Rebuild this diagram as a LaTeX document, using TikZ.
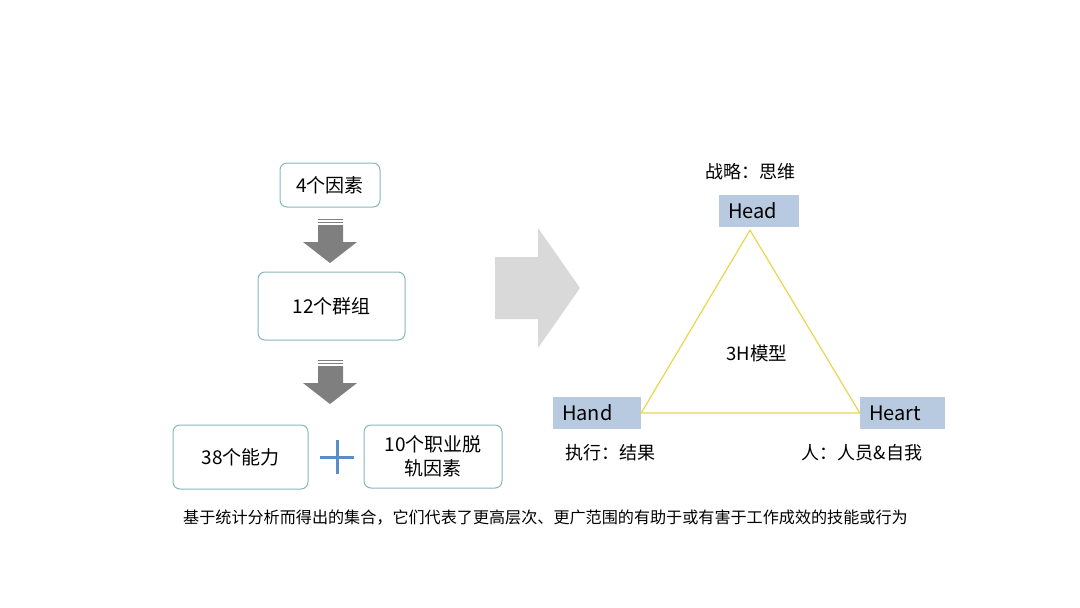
\documentclass[tikz,border=0pt]{standalone}
\usepackage{fontspec}
\setmainfont{Noto Sans CJK SC}
\usetikzlibrary{positioning, calc, shapes}

\definecolor{boxline}{HTML}{86B8BA}
\definecolor{arrowgray}{HTML}{7F7F7F}
\definecolor{biggray}{HTML}{D9D9D9}
\definecolor{plusblue}{HTML}{5B8EC4}
\definecolor{hfill}{HTML}{B7CADF}
\definecolor{triline}{HTML}{E6D74C}

\begin{document}
\begin{tikzpicture}[x=1pt, y=-1pt,
    every node/.style={font=\fontsize{19}{24}\selectfont, inner sep=0pt},
    flowbox/.style={rectangle, draw=boxline, line width=1pt, rounded corners=7pt, fill=white, align=center},
    hbox/.style={rectangle, fill=hfill, minimum height=32pt, align=left, inner xsep=9pt, font=\fontsize{20}{24}\selectfont},
    note/.style={font=\fontsize{18}{22}\selectfont}]
    \useasboundingbox (0,0) rectangle (1080,608);

    \node[flowbox, minimum width=100pt, minimum height=44pt] (factors) at (330,185) {4个因素};
    \node[flowbox, minimum width=147pt, minimum height=68pt] (groups) at (331.5,306) {12个群组};
    \node[flowbox, minimum width=135pt, minimum height=64pt] (abilities) at (240.5,457) {38个能力};
    \node[flowbox, minimum width=138pt, minimum height=63pt] (derailers) at (433,456.5) {10个职业脱\\轨因素};

    \foreach \t in {218,359} {
      \fill[arrowgray] (318,\t+0.5) rectangle (343,\t+2);
      \fill[arrowgray] (318,\t+3.5) rectangle (343,\t+5);
      \fill[arrowgray] (318,\t+7) rectangle (343,\t+24) -- (357,\t+24) -- (330,\t+45) -- (303,\t+24) -- cycle;
    }
    \draw[plusblue, line width=3pt] (320,457) -- (354,457) (337,440) -- (337,474);

    \fill[biggray] (495,257) -- (538,257) -- (538,228) -- (580,288) -- (538,348) -- (538,319) -- (495,319) -- cycle;

    \node[hbox, text width=62pt] (head) at (759,211) {Head};
    \node[hbox, text width=70pt] (hand) at (597,413) {Hand};
    \node[hbox, text width=67pt] (heart) at (902.5,413) {Heart};
    \draw[triline, line width=1.2pt] (hand.east) -- ([shift={(-9,3)}]head.south) -- (heart.west) -- cycle;

    \node[note] (strategy) at (750,172) {战略：思维};
    \node[note, font=\fontsize{18.5}{22}\selectfont] (model) at (757,353) {3H模型};
    \node[note] (execution) at (610,453) {执行：结果};
    \node[note] (people) at (862,453) {人：人员\&自我};

    \node[anchor=west, font=\fontsize{16.1}{20}\selectfont] (summary) at (183,518) {基于统计分析而得出的集合，它们代表了更高层次、更广范围的有助于或有害于工作成效的技能或行为};
\end{tikzpicture}
\end{document}
